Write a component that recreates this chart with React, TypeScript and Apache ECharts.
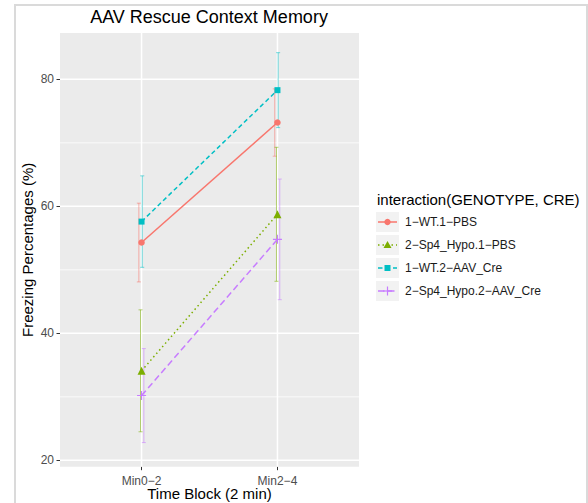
import React, { useEffect, useRef } from "react";
import * as echarts from "echarts";

// Time blocks on the x axis (positions 1 and 2 on a value scale)
const timeBlocks = ["Min0−2", "Min2−4"];
const blockPositions = [1, 2];

// Group labels, in legend order
const groupNames = [
  "1−WT.1−PBS",
  "2−Sp4_Hypo.1−PBS",
  "1−WT.2−AAV_Cre",
  "2−Sp4_Hypo.2−AAV_Cre",
];

// Mean freezing (%) per time block, and the half-width of each error bar
const meanWtPbs = [54.3, 73.2];
const errWtPbs = [6.2, 5.3];
const meanHypoPbs = [34.1, 58.75];
const errHypoPbs = [9.6, 10.55];
const meanWtCre = [57.6, 78.3];
const errWtCre = [7.2, 5.9];
const meanHypoCre = [30.2, 54.8];
const errHypoCre = [7.4, 9.5];

const yTicks = [20, 40, 60, 80];
const yMinorTicks = [30, 50, 70];

const FONT = '"Liberation Sans", Arial, Helvetica, sans-serif';

const PLUS_PATH =
  "path://M0,4.4H4.4V0H5.6V4.4H10V5.6H5.6V10H4.4V5.6H0Z";

type Group = {
  name: string;
  mean: number[];
  err: number[];
  color: string;
  dash: number[] | "solid";
  symbol: string;
  symbolSize: number;
  dodge: number;
  marker: "circle" | "triangle" | "square" | "plus";
};

const groups: Group[] = [
  { name: groupNames[0], mean: meanWtPbs, err: errWtPbs, color: "#F8766D", dash: "solid", symbol: "circle", symbolSize: 6.5, dodge: -2.7, marker: "circle" },
  { name: groupNames[1], mean: meanHypoPbs, err: errHypoPbs, color: "#7CAE00", dash: [1.5, 3], symbol: "triangle", symbolSize: 8, dodge: -1, marker: "triangle" },
  { name: groupNames[2], mean: meanWtCre, err: errWtCre, color: "#00BFC4", dash: [4.5, 3], symbol: "rect", symbolSize: 6, dodge: 0.7, marker: "square" },
  { name: groupNames[3], mean: meanHypoCre, err: errHypoCre, color: "#C77CFF", dash: [6.5, 3.5], symbol: PLUS_PATH, symbolSize: 9, dodge: 2.3, marker: "plus" },
];

function legendMarker(g: Group, cx: number, cy: number): any {
  switch (g.marker) {
    case "circle":
      return { type: "circle", shape: { cx, cy, r: 3.2 }, style: { fill: g.color } };
    case "triangle":
      return {
        type: "polygon",
        shape: { points: [[cx, cy - 4], [cx - 4, cy + 3], [cx + 4, cy + 3]] },
        style: { fill: g.color },
      };
    case "square":
      return { type: "rect", shape: { x: cx - 3, y: cy - 3, width: 6, height: 6 }, style: { fill: g.color } };
    default:
      return {
        type: "group",
        children: [
          { type: "line", shape: { x1: cx - 4.5, y1: cy, x2: cx + 4.5, y2: cy }, style: { stroke: g.color, lineWidth: 1.2 } },
          { type: "line", shape: { x1: cx, y1: cy - 4.5, x2: cx, y2: cy + 4.5 }, style: { stroke: g.color, lineWidth: 1.2 } },
        ],
      };
  }
}

export default function App() {
  const ref = useRef<HTMLDivElement>(null);

  useEffect(() => {
    document.body.style.margin = "0";
    if (!ref.current) return;
    const chart = echarts.init(ref.current, undefined, { renderer: "svg" });

    // white panel grid lines: [x, y, kind (0 = horizontal, 1 = vertical), width]
    const gridLineData = [
      ...yMinorTicks.map((v) => [1, v, 0, 0.8]),
      ...yTicks.map((v) => [1, v, 0, 1.5]),
      ...blockPositions.map((v) => [v, 50, 1, 1.5]),
    ];

    const gridLines: any = {
      type: "custom",
      silent: true,
      z: 1,
      data: gridLineData,
      renderItem: (params: any, api: any) => {
        const cs = params.coordSys;
        const kind = api.value(2);
        const w = api.value(3);
        if (kind === 0) {
          const p = api.coord([1, api.value(1)]);
          return {
            type: "line",
            shape: { x1: cs.x, y1: p[1], x2: cs.x + cs.width, y2: p[1] },
            style: { stroke: "#FFFFFF", lineWidth: w },
          };
        }
        const p = api.coord([api.value(0), 50]);
        return {
          type: "line",
          shape: { x1: p[0], y1: cs.y, x2: p[0], y2: cs.y + cs.height },
          style: { stroke: "#FFFFFF", lineWidth: w },
        };
      },
    };

    const errorBars = groups.map((g) => ({
      type: "custom",
      name: g.name + " error",
      silent: true,
      z: 2,
      data: blockPositions.map((x, i) => [x, g.mean[i], g.err[i]]),
      renderItem: (_params: any, api: any) => {
        const x = api.value(0);
        const m = api.value(1);
        const e = api.value(2);
        const top = api.coord([x, m + e]);
        const bot = api.coord([x, m - e]);
        const cx = top[0] + g.dodge;
        const style = { stroke: g.color, lineWidth: 1, opacity: 0.55 };
        return {
          type: "group",
          children: [
            { type: "line", shape: { x1: cx, y1: top[1], x2: cx, y2: bot[1] }, style },
            { type: "line", shape: { x1: cx - 2, y1: top[1], x2: cx + 2, y2: top[1] }, style },
            { type: "line", shape: { x1: cx - 2, y1: bot[1], x2: cx + 2, y2: bot[1] }, style },
          ],
        };
      },
    }));

    const lines = groups.map((g) => ({
      type: "line",
      name: g.name,
      z: 3,
      data: blockPositions.map((x, i) => [x, g.mean[i]]),
      symbol: g.symbol,
      symbolSize: g.symbolSize,
      showSymbol: true,
      lineStyle: { color: g.color, width: 1.5, type: g.dash },
      itemStyle: { color: g.color, borderWidth: 0 },
      emphasis: { disabled: true },
    }));

    const rowY0 = 222;
    const rowStep = 23;
    const legendRows = groups.flatMap((g, i) => {
      const cy = rowY0 + i * rowStep;
      return [
        { type: "rect", shape: { x: 376, y: cy - 10, width: 23, height: 20 }, style: { fill: "#F2F2F2" }, silent: true },
        {
          type: "line",
          shape: { x1: 378, y1: cy, x2: 397, y2: cy },
          style: { stroke: g.color, lineWidth: 1.5, lineDash: g.dash === "solid" ? null : g.dash },
          silent: true,
        },
        legendMarker(g, 387.5, cy),
        {
          type: "text",
          x: 405,
          y: cy,
          style: { text: g.name, font: `12px ${FONT}`, fill: "#1A1A1A", textVerticalAlign: "middle" },
          silent: true,
        },
      ];
    });

    chart.setOption({
      animation: false,
      backgroundColor: "#FFFFFF",
      grid: {
        left: 60,
        top: 33,
        right: 229,
        bottom: 36.3,
        show: true,
        backgroundColor: "#EBEBEB",
        borderWidth: 0,
        containLabel: false,
        outerBoundsMode: "none",
      },
      xAxis: {
        type: "value",
        min: 0.4,
        max: 2.6,
        name: "Time Block (2 min)",
        nameLocation: "middle",
        nameGap: 19,
        nameMoveOverlap: false,
        nameTextStyle: { fontSize: 15, color: "#000000", fontFamily: FONT },
        axisLine: { show: false },
        splitLine: { show: false },
        axisTick: { show: true, length: 3.5, customValues: blockPositions, lineStyle: { color: "#333333", width: 1 } },
        axisLabel: {
          customValues: blockPositions,
          margin: 8,
          fontSize: 12,
          color: "#4D4D4D",
          fontFamily: FONT,
          formatter: (v: number) => timeBlocks[blockPositions.indexOf(v)] ?? "",
        },
      },
      yAxis: {
        type: "value",
        min: 19.0,
        max: 87.3,
        name: "Freezing Percentages (%)",
        nameLocation: "middle",
        nameGap: 25,
        nameMoveOverlap: false,
        nameTextStyle: { fontSize: 15, color: "#000000", fontFamily: FONT },
        axisLine: { show: false },
        splitLine: { show: false },
        axisTick: { show: true, length: 3.5, customValues: yTicks, lineStyle: { color: "#333333", width: 1 } },
        axisLabel: {
          customValues: yTicks,
          margin: 6,
          fontSize: 12,
          color: "#4D4D4D",
          fontFamily: FONT,
        },
      },
      graphic: [
        {
          type: "rect",
          shape: { x: 15, y: 5, width: 572, height: 520 },
          style: { fill: "none", stroke: "#DADADA", lineWidth: 2 },
          silent: true,
        },
        {
          type: "text",
          x: 209,
          y: 17,
          style: {
            text: "AAV Rescue Context Memory",
            font: `18px ${FONT}`,
            fill: "#000000",
            textAlign: "center",
            textVerticalAlign: "middle",
          },
          silent: true,
        },
        {
          type: "text",
          x: 377,
          y: 199,
          style: {
            text: "interaction(GENOTYPE, CRE)",
            font: `15px ${FONT}`,
            fill: "#000000",
            textVerticalAlign: "middle",
          },
          silent: true,
        },
        ...legendRows,
      ],
      series: [gridLines, ...errorBars, ...lines],
    });

    return () => chart.dispose();
  }, []);

  return <div ref={ref} style={{ width: 588, height: 503 }} />;
}
